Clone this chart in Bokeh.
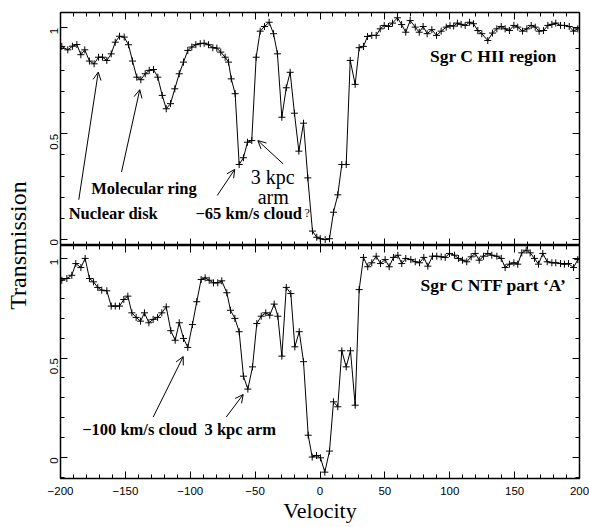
import math
from bokeh.plotting import figure
from bokeh.layouts import row, column
from bokeh.models import (Range1d, SingleIntervalTicker, FixedTicker, LinearAxis, Label,
                          Arrow, OpenHead, ColumnDataSource)
from bokeh.embed import file_html
from bokeh.resources import INLINE

# ---------------- data ----------------
top_vel = [-199.0, -194.4, -190.8, -187.4, -184.3, -181.3, -177.7, -174.1, -170.7, -167.6,
           -164.3, -160.9, -157.8, -154.5, -150.9, -147.6, -144.5, -141.2, -138.1, -134.7,
           -131.6, -128.3, -125.0, -121.6, -118.5, -115.2, -111.9, -108.5, -105.2, -101.9,
           -98.8, -95.7, -92.3, -89.3, -85.9, -82.6, -79.5, -76.5, -73.1, -70.5,
           -68.4, -65.4, -62.3, -59.0, -55.9, -52.6, -49.2, -46.1, -42.8, -39.2,
           -35.8, -32.8, -29.4, -26.0, -23.0, -19.7, -16.3, -12.7, -9.4, -5.8,
           -2.5, 0.2, 4.0, 7.3, 10.4, 13.7, 16.8, 20.2, 23.3, 27.1,
           30.2, 33.5, 36.6, 39.9, 43.3, 46.4, 49.5, 52.8, 55.9, 59.7,
           62.9, 66.1, 69.5, 73.4, 76.5, 79.5, 82.6, 86.2, 89.8, 93.4,
           97.3, 100.2, 103.0, 105.9, 108.8, 111.9, 115.2, 118.3, 121.6, 124.7,
           129.3, 132.9, 136.3, 139.7, 142.7, 146.0, 149.4, 152.4, 156.1, 159.4,
           162.8, 165.9, 168.9, 172.3, 175.6, 178.7, 181.7, 185.4, 188.4, 192.1,
           195.4, 198.7]
top_val = [0.912, 0.896, 0.913, 0.921, 0.873, 0.896, 0.843, 0.830, 0.861, 0.861,
           0.846, 0.877, 0.932, 0.960, 0.956, 0.920, 0.843, 0.767, 0.755, 0.783,
           0.799, 0.803, 0.767, 0.681, 0.618, 0.642, 0.712, 0.783, 0.838, 0.893,
           0.909, 0.920, 0.925, 0.927, 0.920, 0.906, 0.904, 0.885, 0.861, 0.838,
           0.759, 0.689, 0.355, 0.387, 0.460, 0.468, 0.861, 0.984, 1.006, 1.026,
           0.972, 0.877, 0.578, 0.717, 0.790, 0.597, 0.418, 0.550, 0.292, 0.041,
           0.012, 0.005, 0.001, 0.005, 0.130, 0.212, 0.355, 0.355, 0.846, 0.733,
           0.906, 0.912, 0.959, 0.964, 0.964, 0.995, 1.011, 1.006, 1.022, 1.047,
           1.015, 0.979, 1.034, 1.003, 0.979, 1.006, 0.972, 0.991, 0.964, 0.984,
           1.003, 1.010, 1.008, 1.022, 1.016, 1.011, 1.026, 1.019, 0.987, 0.972,
           0.940, 0.975, 0.995, 1.006, 0.995, 0.987, 1.011, 1.003, 0.984, 0.995,
           1.011, 1.003, 0.984, 0.987, 1.011, 1.016, 1.022, 1.011, 1.011, 1.006,
           0.984, 0.995]

bot_vel = [-199.0, -195.1, -191.3, -188.2, -184.3, -181.0, -177.7, -174.6, -171.3, -168.2,
           -164.3, -160.9, -157.8, -154.5, -151.2, -148.1, -145.0, -141.7, -138.3, -135.3,
           -131.9, -128.6, -125.2, -121.9, -118.5, -115.0, -111.6, -108.5, -105.2, -101.9,
           -98.3, -95.0, -91.6, -88.5, -85.4, -82.1, -78.8, -75.7, -71.8, -69.0,
           -65.6, -62.3, -59.0, -55.6, -52.0, -48.7, -45.3, -41.8, -38.7, -35.3,
           -32.5, -29.4, -26.0, -22.5, -19.4, -16.0, -12.7, -9.1, -6.0, -2.7,
           0.4, 3.7, 7.3, 10.4, 13.7, 16.8, 20.2, 23.5, 27.1, 30.2,
           33.5, 36.8, 39.9, 43.3, 46.6, 50.2, 53.3, 56.6, 60.0, 63.0,
           66.1, 70.0, 73.4, 76.7, 80.0, 83.1, 86.7, 90.0, 93.4, 96.5,
           99.8, 103.7, 106.7, 109.8, 113.1, 116.5, 119.6, 122.7, 126.0, 129.3,
           132.4, 136.3, 139.7, 142.7, 146.0, 149.4, 152.4, 155.5, 158.9, 162.0,
           165.3, 168.4, 171.7, 175.1, 178.7, 181.7, 185.4, 188.4, 191.5, 195.4,
           198.7]
bot_val = [0.892, 0.901, 0.917, 0.976, 0.956, 1.002, 0.901, 0.884, 0.856, 0.842,
           0.839, 0.762, 0.762, 0.762, 0.795, 0.812, 0.728, 0.705, 0.686, 0.728,
           0.678, 0.695, 0.705, 0.728, 0.758, 0.638, 0.590, 0.678, 0.599, 0.554,
           0.669, 0.784, 0.896, 0.904, 0.892, 0.879, 0.879, 0.889, 0.829, 0.741,
           0.700, 0.633, 0.409, 0.344, 0.456, 0.674, 0.711, 0.728, 0.716, 0.772,
           0.711, 0.510, 0.856, 0.825, 0.557, 0.633, 0.482, 0.112, 0.002, 0.010,
           -0.002, -0.074, 0.032, 0.280, 0.255, 0.537, 0.456, 0.537, 0.263, 0.845,
           1.007, 0.960, 0.980, 1.013, 0.976, 0.996, 0.960, 1.007, 1.018, 0.976,
           1.002, 0.996, 0.985, 0.980, 1.007, 0.963, 1.013, 1.013, 1.010, 1.007,
           1.027, 1.018, 1.002, 0.993, 0.985, 1.010, 1.027, 0.993, 1.013, 1.027,
           1.018, 1.013, 1.002, 0.956, 0.973, 0.980, 0.973, 1.030, 1.043, 1.030,
           1.002, 0.973, 1.027, 0.985, 0.980, 0.980, 0.976, 0.973, 0.976, 0.956,
           0.996]

x_major_ticks = [-200, -150, -100, -50, 0, 50, 100, 150, 200]
x_tick_labels = ["\u2212200", "\u2212150", "\u2212100", "\u221250", "0", "50", "100", "150", "200"]
x_minor_ticks = [v for v in range(-200, 201, 10) if v % 50 != 0]
y_major_ticks = [0, 0.5, 1]
y_tick_labels = ["0", "0.5", "1"]
y_minor_ticks = [-0.1, 0.1, 0.2, 0.3, 0.4, 0.6, 0.7, 0.8, 0.9]

SERIF = "Liberation Serif"
SANS = "Liberation Sans"
BOLD_SIZE = "16.5px"

xr = Range1d(-200, 200)


def style_axis(ax):
    ax.axis_line_color = None
    ax.major_tick_in = 7
    ax.major_tick_out = 0
    ax.minor_tick_in = 4
    ax.minor_tick_out = 0
    ax.major_tick_line_color = "black"
    ax.minor_tick_line_color = "black"
    ax.major_tick_line_width = 1
    ax.minor_tick_line_width = 1
    ax.major_label_text_font = SANS
    ax.major_label_text_font_size = "11.5px"
    ax.major_label_text_color = "black"


def tick_only(p, side, majors, minors):
    # two label-free axes: long ticks at the majors, short ticks at the minors
    for pos, ln in ((majors, 7), (minors, 4)):
        ax = LinearAxis(ticker=FixedTicker(ticks=[], minor_ticks=pos))
        ax.axis_line_color = None
        ax.major_tick_out = 0
        ax.major_tick_in = 0
        ax.minor_tick_out = 0
        ax.minor_tick_in = ln
        ax.minor_tick_line_color = "black"
        ax.minor_tick_line_width = 1
        ax.major_label_standoff = 0
        p.add_layout(ax, side)


def panel(ylo, yhi, border_top, show_x):
    p = figure(frame_width=519, frame_height=233, x_range=xr, y_range=Range1d(ylo, yhi),
               output_backend="svg", toolbar_location=None,
               x_axis_location="below" if show_x else None, y_axis_location="left",
               min_border_left=30, min_border_right=10,
               min_border_top=border_top, min_border_bottom=0)
    p.grid.visible = False
    p.outline_line_color = "black"
    p.outline_line_width = 1.5
    p.background_fill_color = "white"
    p.border_fill_color = "white"

    ya = p.yaxis[0]
    ya.ticker = SingleIntervalTicker(interval=0.5, num_minor_ticks=5)
    style_axis(ya)
    ya.major_label_orientation = math.pi / 2
    ya.major_label_standoff = 6
    ya.major_label_overrides = dict(zip(y_major_ticks, y_tick_labels))

    if show_x:
        xa = p.xaxis[0]
        xa.ticker = SingleIntervalTicker(interval=50, num_minor_ticks=5)
        style_axis(xa)
        xa.major_label_overrides = dict(zip(x_major_ticks, x_tick_labels))
        xa.major_label_standoff = 8
        xa.axis_label = "Velocity"
        xa.axis_label_text_font = SERIF
        xa.axis_label_text_font_style = "normal"
        xa.axis_label_text_font_size = "22px"
        xa.axis_label_text_color = "black"
        xa.axis_label_standoff = 0
    else:
        tick_only(p, "below", x_major_ticks, x_minor_ticks)

    tick_only(p, "above", x_major_ticks, x_minor_ticks)
    tick_only(p, "right", y_major_ticks, y_minor_ticks)
    return p


def add_text(p, x, y, text, align="left", bold=True, size=BOLD_SIZE):
    p.add_layout(Label(x=x, y=y, text=text, text_align=align, text_baseline="middle",
                       text_font=SERIF, text_font_style="bold" if bold else "normal",
                       text_font_size=size, text_color="black"))


def add_arrow(p, x0, y0, x1, y1):
    p.add_layout(Arrow(end=OpenHead(size=8, line_width=1, line_color="black"),
                       x_start=x0, y_start=y0, x_end=x1, y_end=y1,
                       line_width=1, line_color="black"))


# ---------------- top panel ----------------
p1 = panel(-0.027, 1.072, 12, False)
s1 = ColumnDataSource(dict(v=top_vel, t=top_val))
p1.line("v", "t", source=s1, line_color="black", line_width=1)
p1.scatter("v", "t", source=s1, marker="cross", size=7, line_color="black", line_width=1)

add_text(p1, 182.3, 0.869, "Sgr C HII region", align="right", size="17.5px")
add_text(p1, -193.7, 0.125, "Nuclear disk")
add_text(p1, -176.3, 0.24, "Molecular ring")
add_text(p1, -36.4, 0.295, "3 kpc", align="center", bold=False, size="20px")
add_text(p1, -36.0, 0.204, "arm", align="center", bold=False, size="20px")
add_text(p1, -96.0, 0.125, "\u221265 km/s cloud")
add_text(p1, -11.9, 0.124, "?", bold=False, size="12px")
add_arrow(p1, -185.9, 0.189, -170.9, 0.791)
add_arrow(p1, -153.0, 0.319, -138.9, 0.708)
add_arrow(p1, -79.2, 0.209, -65.7, 0.332)
add_arrow(p1, -28.4, 0.358, -47.9, 0.468)

# ---------------- bottom panel ----------------
p2 = panel(-0.106, 1.067, 0, True)
s2 = ColumnDataSource(dict(v=bot_vel, t=bot_val))
p2.line("v", "t", source=s2, line_color="black", line_width=1)
p2.scatter("v", "t", source=s2, marker="cross", size=7, line_color="black", line_width=1)

add_text(p2, 190.3, 0.866, "Sgr C NTF part \u2018A\u2019", align="right", size="17.5px")
add_text(p2, -183.3, 0.141, "\u2212100 km/s cloud")
add_text(p2, -89.0, 0.141, "3 kpc arm")
add_arrow(p2, -128.6, 0.203, -105.4, 0.508)
add_arrow(p2, -72.3, 0.203, -59.2, 0.317)

# ---------------- y-axis title strip ----------------
lab = figure(frame_width=30, frame_height=500, x_range=Range1d(0, 30), y_range=Range1d(0, 500),
             output_backend="svg", toolbar_location=None, min_border=0,
             x_axis_location=None, y_axis_location=None)
lab.outline_line_color = None
lab.grid.visible = False
lab.add_layout(Label(x=17, y=255, text="Transmission", angle=math.pi / 2,
                     text_align="center", text_baseline="middle",
                     text_font=SERIF, text_font_size="24px", text_color="black"))

layout = row(lab, column(p1, p2))
open("out.html", "w").write(file_html(layout, INLINE))
